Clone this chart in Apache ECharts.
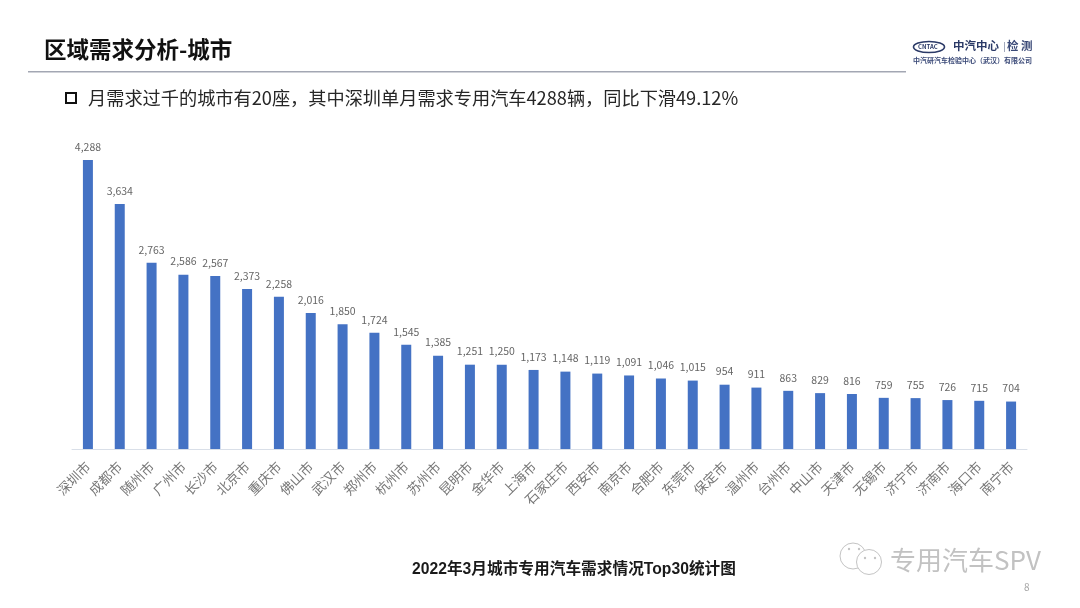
<!DOCTYPE html>
<html>
<head>
<meta charset="utf-8">
<title>区域需求分析-城市</title>
<script src="https://cdn.jsdelivr.net/npm/echarts@6/dist/echarts.min.js"></script>
<style>
html,body{margin:0;padding:0;background:#fff;}
#main{width:1080px;height:608px;}
</style>
</head>
<body>
<div id="main"></div>
<script>
var cities = ['深圳市','成都市','随州市','广州市','长沙市','北京市','重庆市','佛山市','武汉市','郑州市','杭州市','苏州市','昆明市','金华市','上海市','石家庄市','西安市','南京市','合肥市','东莞市','保定市','温州市','台州市','中山市','天津市','无锡市','济宁市','济南市','海口市','南宁市'];
var demand = [4288,3634,2763,2586,2567,2373,2258,2016,1850,1724,1545,1385,1251,1250,1173,1148,1119,1091,1046,1015,954,911,863,829,816,759,755,726,715,704];

var FONT = '"Noto Sans CJK SC","Noto Sans",sans-serif';
var chart = echarts.init(document.getElementById('main'));

var option = {
    animation: false,
    backgroundColor: '#fff',
    textStyle: {fontFamily: FONT},
    grid: {left: 72, top: 112, width: 955, height: 337, containLabel: false},
    xAxis: {
        type: 'category',
        data: cities,
        axisLine: {lineStyle: {color: '#d9dfe8', width: 1}},
        axisTick: {show: false},
        axisLabel: {
            interval: 0,
            rotate: 45,
            margin: 15,
            fontSize: 13.5,
            color: '#777'
        }
    },
    yAxis: {
        type: 'value',
        min: 0,
        max: 5000,
        show: false,
        splitLine: {show: false}
    },
    series: [{
        type: 'bar',
        data: demand,
        barWidth: 10,
        itemStyle: {color: '#4472c4'},
        label: {
            show: true,
            position: 'top',
            distance: 8,
            fontSize: 10.5,
            color: '#666',
            formatter: function (p) {
                return p.value >= 1000 ? String(p.value).replace(/(\d)(\d{3})$/, '$1,$2') : p.value;
            }
        }
    }],
    graphic: [
        // 标题和副标题
        {type: 'text', left: 44, top: 38, style: {text: '区域需求分析-城市', font: 'bold 22.5px ' + FONT, fill: '#111'}},
        {type: 'rect', shape: {x: 28, y: 71, width: 878, height: 1.5}, style: {fill: '#a3a7b3'}},
        {type: 'rect', shape: {x: 66, y: 93, width: 10, height: 10}, style: {fill: 'none', stroke: '#111', lineWidth: 2}},
        {type: 'text', left: 88, top: 89, style: {text: '月需求过千的城市有20座，其中深圳单月需求专用汽车4288辆，同比下滑49.12%', font: '18.2px ' + FONT, fill: '#262626'}},
        // 右上角logo
        {type: 'ellipse', shape: {cx: 929, cy: 47, rx: 15.5, ry: 5.5}, style: {fill: 'none', stroke: '#2b3a67', lineWidth: 1.6}},
        {type: 'text', left: 918, top: 44, style: {text: 'CNTAC', font: 'bold 6px ' + FONT, fill: '#2b3a67'}},
        {type: 'text', left: 953, top: 40, style: {text: '中汽中心', font: 'bold 11.5px ' + FONT, fill: '#2b3a67'}},
        {type: 'rect', shape: {x: 1004, y: 42, width: 0.8, height: 10}, style: {fill: '#8b93ab'}},
        {type: 'text', left: 1007, top: 40, style: {text: '检 测', font: 'bold 11.5px ' + FONT, fill: '#3b4a78'}},
        {type: 'text', left: 913, top: 57, style: {text: '中汽研汽车检验中心（武汉）有限公司', font: 'bold 7px ' + FONT, fill: '#3b4a78'}},
        // 底部标题
        {type: 'text', left: 412, top: 562, style: {text: '2022年3月城市专用汽车需求情况Top30统计图', font: 'bold 15.7px "Liberation Sans",' + FONT, fill: '#1a1a1a'}},
        // 水印和页码
        {type: 'circle', shape: {cx: 853, cy: 556, r: 13}, style: {fill: 'none', stroke: '#c4c4c4', lineWidth: 1}},
        {type: 'circle', shape: {cx: 869, cy: 562, r: 12.5}, style: {fill: '#fff', stroke: '#c4c4c4', lineWidth: 1}},
        {type: 'circle', shape: {cx: 849, cy: 549, r: 1.2}, style: {fill: '#c4c4c4'}},
        {type: 'circle', shape: {cx: 859, cy: 549, r: 1.2}, style: {fill: '#c4c4c4'}},
        {type: 'circle', shape: {cx: 865, cy: 558, r: 1.2}, style: {fill: '#c4c4c4'}},
        {type: 'circle', shape: {cx: 875, cy: 558, r: 1.2}, style: {fill: '#c4c4c4'}},
        {type: 'text', left: 890, top: 547, style: {text: '专用汽车SPV', font: '26px ' + FONT, fill: '#c2c2c2'}},
        {type: 'text', left: 1024, top: 582, style: {text: '8', font: '10px ' + FONT, fill: '#a6a6a6'}}
    ]
};
chart.setOption(option);
</script>
</body>
</html>
